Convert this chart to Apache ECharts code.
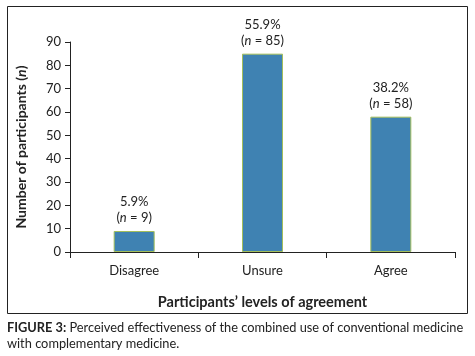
<!DOCTYPE html>
<html>
<head>
<meta charset="utf-8">
<script src="https://cdn.jsdelivr.net/npm/echarts@6/dist/echarts.min.js"></script>
<style>
  html, body { margin: 0; padding: 0; background: #fff; }
  #chart { width: 475px; height: 356px; }
</style>
</head>
<body>
<div id="chart"></div>
<script>
const categories = ['Disagree', 'Unsure', 'Agree'];
const counts = [9, 85, 58];
const percents = ['5.9%', '55.9%', '38.2%'];

const font = 'Lato, "Open Sans", sans-serif';
const chart = echarts.init(document.getElementById('chart'));

chart.setOption({
  animation: false,
  textStyle: { fontFamily: font },
  grid: { left: 70, right: 20, top: 42, bottom: 104 },
  xAxis: {
    type: 'category',
    data: categories,
    name: 'Participants\u2019 levels of agreement',
    nameLocation: 'middle',
    nameGap: 43,
    nameTextStyle: { fontSize: 14.5, fontWeight: 'bold', color: '#222', fontFamily: font },
    axisLine: { lineStyle: { color: '#222', width: 1 } },
    axisTick: { show: true, length: 6, lineStyle: { color: '#222' } },
    axisLabel: { fontSize: 13, color: '#222', margin: 12, fontFamily: font }
  },
  yAxis: {
    type: 'value',
    min: 0,
    max: 90,
    interval: 10,
    name: 'Number of participants ({i|n})',
    nameLocation: 'middle',
    nameGap: 42,
    nameTextStyle: {
      fontSize: 14, fontWeight: 'bold', color: '#222', fontFamily: font,
      rich: { i: { fontSize: 14, fontWeight: 'bold', fontStyle: 'italic', color: '#222', fontFamily: font } }
    },
    axisLine: { show: true, lineStyle: { color: '#222', width: 1 } },
    axisTick: { show: true, length: 5, lineStyle: { color: '#222' } },
    axisLabel: { fontSize: 13, color: '#222', margin: 9, fontFamily: font },
    splitLine: { show: false }
  },
  series: [
    {
      type: 'bar',
      data: counts,
      barWidth: 41,
      itemStyle: { color: '#3f82b2', borderColor: '#a3be5c', borderWidth: 1 },
      label: {
        show: true,
        position: 'top',
        distance: 5,
        align: 'center',
        color: '#222',
        fontSize: 13,
        lineHeight: 16,
        fontFamily: font,
        formatter: p => percents[p.dataIndex] + '\n({i|n} = ' + counts[p.dataIndex] + ')',
        rich: {
          i: { fontStyle: 'italic', fontSize: 13, color: '#222', fontFamily: font, lineHeight: 16 }
        }
      }
    }
  ],
  graphic: [
    {
      type: 'rect',
      shape: { x: 7.5, y: 6.5, width: 460, height: 307 },
      style: { fill: 'none', stroke: '#222', lineWidth: 1 },
      silent: true
    },
    {
      type: 'text',
      left: 7,
      top: 320,
      style: {
        text: '{b|FIGURE 3:} Perceived effectiveness of the combined use of conventional medicine\nwith complementary medicine.',
        font: '12.8px ' + font,
        fill: '#222',
        lineHeight: 16,
        rich: {
          b: { fontWeight: 'bold', fontSize: 12.8, fontFamily: font, fill: '#222' }
        }
      }
    }
  ]
});
</script>
</body>
</html>
